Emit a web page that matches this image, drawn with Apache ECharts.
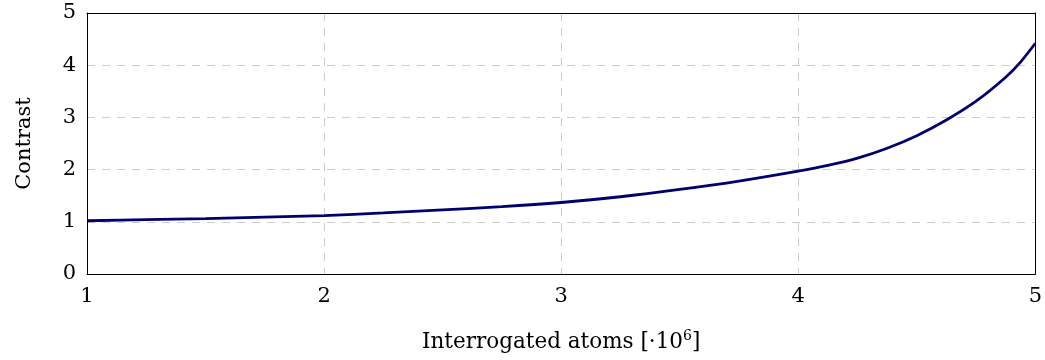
<!DOCTYPE html>
<html>
<head>
<meta charset="utf-8">
<script src="https://cdn.jsdelivr.net/npm/echarts@6/dist/echarts.min.js"></script>
<style>
html,body{margin:0;padding:0;background:#fff;}
#chart{width:1045px;height:360px;}
</style>
</head>
<body>
<div id="chart"></div>
<script>
// Data
const atoms = [1, 1.25, 1.5, 1.75, 2, 2.25, 2.5, 2.75, 3, 3.25, 3.5, 3.75, 4, 4.125, 4.25, 4.375, 4.5, 4.625, 4.75, 4.875, 4.9375, 5];
const contrast = [1.02, 1.04, 1.06, 1.09, 1.12, 1.17, 1.23, 1.29, 1.37, 1.48, 1.62, 1.78, 1.97, 2.08, 2.22, 2.41, 2.65, 2.95, 3.31, 3.77, 4.06, 4.42];
const xTicks = [1, 2, 3, 4, 5];
const yTicks = [0, 1, 2, 3, 4, 5];

const FONT = 'DejaVu Serif';
const grid = {left: 87, right: 9, top: 13, bottom: 86};
const dash = {color: '#cccccc', type: [8, 7], width: 1};
const chart = echarts.init(document.getElementById('chart'), null, {renderer: 'canvas'});
chart.setOption({
  animation: false,
  backgroundColor: '#ffffff',
  grid: grid,
  xAxis: [{
    type: 'value', min: 1, max: 5, interval: 1, position: 'bottom',
    axisLine: {show: true, onZero: false, lineStyle: {color: '#000', width: 1}}, axisTick: {show: false},
    axisLabel: {color: '#000', fontFamily: FONT, fontSize: 21, margin: 12,
      formatter: v => xTicks.includes(v) ? String(v) : ''},
    splitLine: {show: true, showMinLine: false, showMaxLine: false, lineStyle: dash},
    name: '{a|Interrogated atoms [·10}{s|6}{a|]}',
    nameLocation: 'middle', nameGap: 55,
    nameTextStyle: {rich: {
      a: {fontFamily: FONT, fontSize: 21.5, color: '#000', lineHeight: 26},
      s: {fontFamily: FONT, fontSize: 14, color: '#000', verticalAlign: 'top', lineHeight: 16}
    }}
  }, {
    type: 'value', min: 1, max: 5, position: 'top',
    axisLine: {show: true, onZero: false, lineStyle: {color: '#000', width: 1}},
    axisTick: {show: false}, axisLabel: {show: false}, splitLine: {show: false}
  }],
  yAxis: [{
    type: 'value', min: 0, max: 5, interval: 1, position: 'left',
    axisLine: {show: true, onZero: false, lineStyle: {color: '#000', width: 1}}, axisTick: {show: false},
    axisLabel: {color: '#000', fontFamily: FONT, fontSize: 21, margin: 11,
      formatter: v => yTicks.includes(v) ? String(v) : ''},
    splitLine: {show: true, showMinLine: false, showMaxLine: false, lineStyle: dash},
    name: 'Contrast', nameLocation: 'middle', nameGap: 52, nameRotate: 90,
    nameTextStyle: {fontFamily: FONT, fontSize: 21, color: '#000'}
  }, {
    type: 'value', min: 0, max: 5, position: 'right',
    axisLine: {show: true, onZero: false, lineStyle: {color: '#000', width: 1}},
    axisTick: {show: false}, axisLabel: {show: false}, splitLine: {show: false}
  }],
  series: [{
    type: 'line',
    xAxisIndex: 0, yAxisIndex: 0,
    data: atoms.map((x, i) => [x, contrast[i]]),
    smooth: 0.3,
    showSymbol: false,
    lineStyle: {color: '#00006e', width: 2.8},
    z: 5
  }]
});
</script>
</body>
</html>
